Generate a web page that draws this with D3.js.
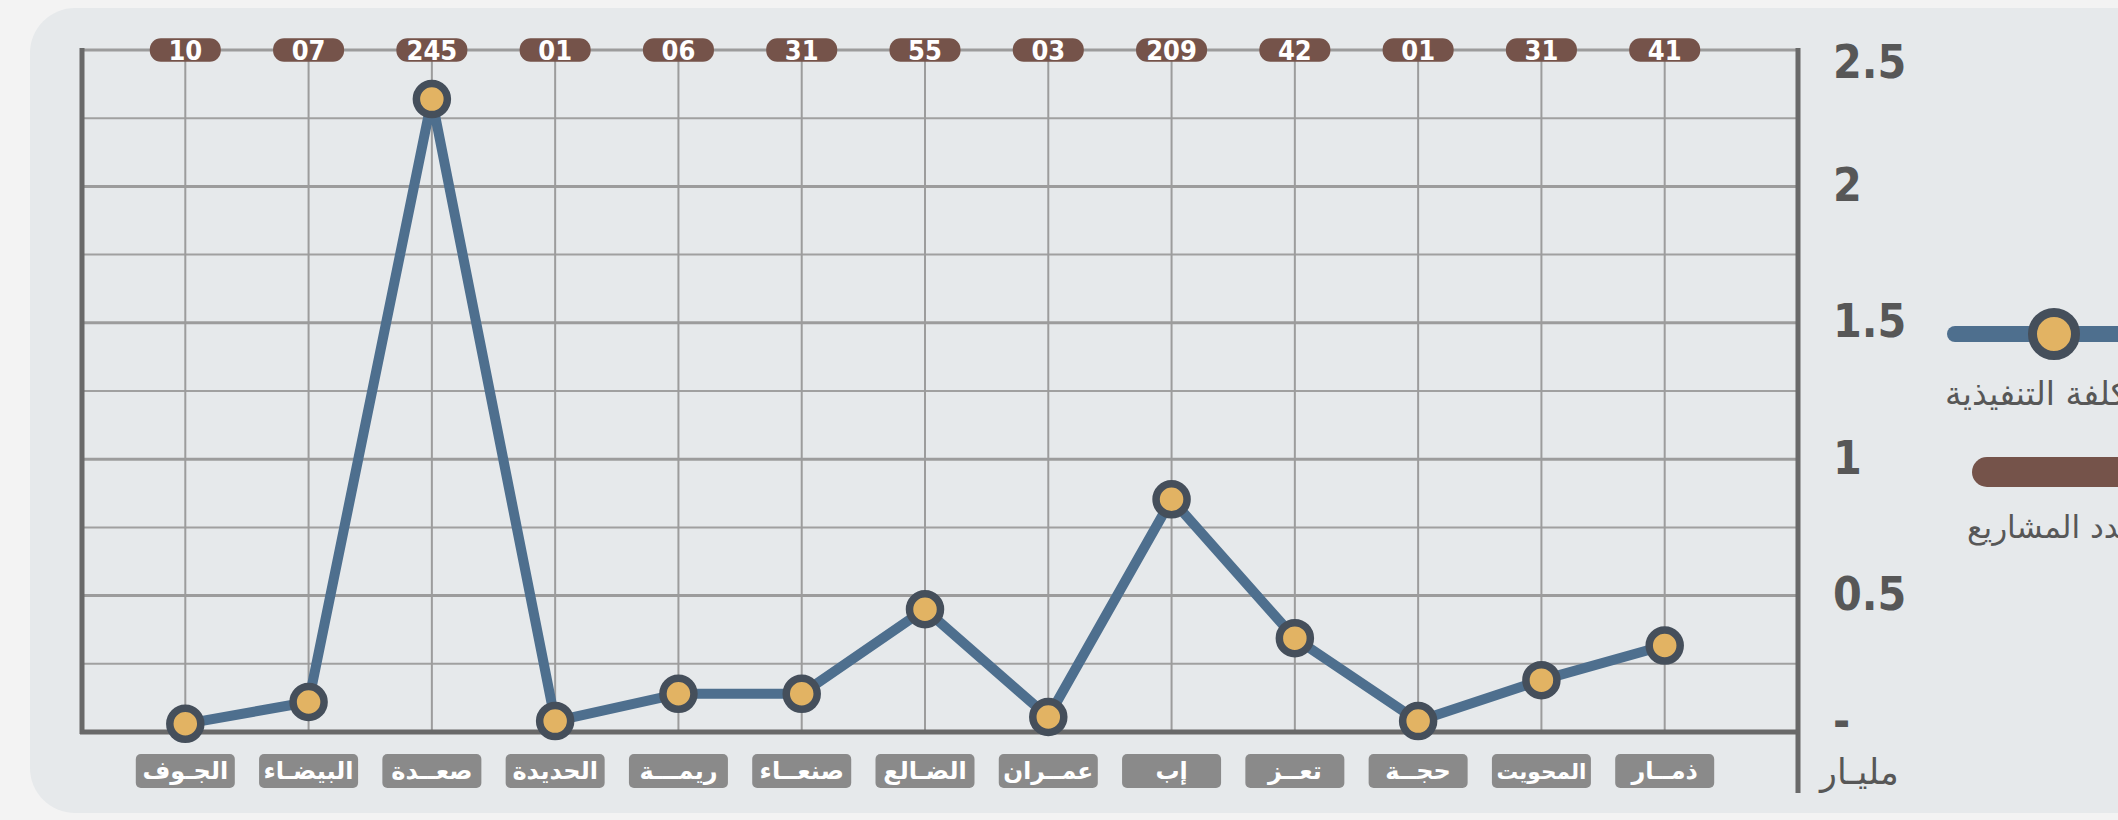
<!DOCTYPE html>
<html lang="ar">
<head>
	<meta charset="utf-8">
	<title>Cost by governorate</title>
	<script src="https://cdn.jsdelivr.net/npm/d3@7"></script>
	<style type="text/css">
		body {
			margin: 0;
			background: #f3f3f3;
		}
		svg text {
			font-family: "DejaVu Sans", sans-serif;
		}
		.num {
			font-family: "Liberation Sans Narrow", "DejaVu Sans Condensed", "Roboto Condensed", sans-serif !important;
			font-stretch: condensed;
			font-weight: bold;
		}
	</style>
</head>
<body>
<script type="text/javascript">

// governorates, left to right
var categories = ["الجـوف", "البيضـاء", "صعــدة", "الحديدة", "ريمـــة", "صنعــاء", "الضـالع",
                  "عمــران", "إب", "تعــز", "حجــة", "المحويت", "ذمــار"];

// implementation cost (billion)
var cost = [0.03, 0.11, 2.32, 0.04, 0.14, 0.14, 0.45, 0.055, 0.853, 0.344, 0.04, 0.19, 0.317];

// number of projects (shown in the top pills)
var projects = ["10", "07", "245", "01", "06", "31", "55", "03", "209", "42", "01", "31", "41"];

// y axis
var yTicks = [0, 0.5, 1, 1.5, 2, 2.5];
var yTickLabels = ["-", "0.5", "1", "1.5", "2", "2.5"];
var yMinor = [0.25, 0.75, 1.25, 1.75, 2.25];

var legendCost = "التكلفة التنفيذية";
var legendProjects = "عدد المشاريع";
var unitLabel = "مليـار";

// layout
var width = 2118, height = 820;
var plot = {left: 82, right: 1798, top: 50, bottom: 732};

var svg = d3.select("body")
			.append("svg")
			.attr("width", width)
			.attr("height", height)
			.attr("direction", "ltr");

// background panel
svg.append("rect")
	.attr("x", 30)
	.attr("y", 8)
	.attr("width", 2250)
	.attr("height", 805)
	.attr("rx", 45)
	.attr("fill", "#e6e9eb");

var xScale = d3.scalePoint()
				.domain(categories)
				.range([185.3, 1664.7]);

var yScale = d3.scaleLinear()
				.domain([0, 2.5])
				.range([plot.bottom, plot.top]);

var grid = svg.append("g");

// minor horizontal lines
grid.selectAll(".minor")
	.data(yMinor)
	.enter().append("line")
	.attr("x1", plot.left)
	.attr("x2", plot.right)
	.attr("y1", function(d) { return yScale(d); })
	.attr("y2", function(d) { return yScale(d); })
	.attr("stroke", "#a0a0a0")
	.attr("stroke-width", 2);

// major horizontal lines
grid.selectAll(".major")
	.data(yTicks.filter(function(d) { return d > 0; }))
	.enter().append("line")
	.attr("x1", plot.left)
	.attr("x2", plot.right)
	.attr("y1", function(d) { return yScale(d); })
	.attr("y2", function(d) { return yScale(d); })
	.attr("stroke", "#9c9c9c")
	.attr("stroke-width", 3);

// vertical lines at each category
grid.selectAll(".vline")
	.data(categories)
	.enter().append("line")
	.attr("x1", function(d) { return xScale(d); })
	.attr("x2", function(d) { return xScale(d); })
	.attr("y1", plot.top)
	.attr("y2", plot.bottom)
	.attr("stroke", "#9c9c9c")
	.attr("stroke-width", 2);

// axes frame
var axisColor = "#696969";
svg.append("line")
	.attr("x1", plot.left).attr("x2", plot.left)
	.attr("y1", plot.top - 2).attr("y2", plot.bottom + 2)
	.attr("stroke", axisColor).attr("stroke-width", 5);
svg.append("line")
	.attr("x1", plot.right).attr("x2", plot.right)
	.attr("y1", plot.top - 2).attr("y2", 793)
	.attr("stroke", axisColor).attr("stroke-width", 5);
svg.append("line")
	.attr("x1", plot.left - 2).attr("x2", plot.right)
	.attr("y1", plot.bottom).attr("y2", plot.bottom)
	.attr("stroke", axisColor).attr("stroke-width", 5);

// y labels on the right
var yAxis = d3.axisRight(yScale)
				.tickValues(yTicks)
				.tickSize(0)
				.tickPadding(0)
				.tickFormat(function(d, i) { return yTickLabels[i]; });

var yG = svg.append("g")
			.attr("transform", "translate(1833,0)")
			.call(yAxis);
yG.select(".domain").remove();
yG.selectAll("text")
	.attr("class", "num")
	.attr("fill", "#575757")
	.style("font-size", "46px")
	.attr("dy", function(d) { return d == 2.5 ? "0.6em" : (d == 0 ? "0.1em" : "0.3em"); });

// cost line
var line = d3.line()
			.x(function(d, i) { return xScale(categories[i]); })
			.y(function(d) { return yScale(d); });

svg.append("path")
	.datum(cost)
	.attr("d", line)
	.attr("fill", "none")
	.attr("stroke", "#4e6f8e")
	.attr("stroke-width", 10)
	.attr("stroke-linejoin", "round");

svg.selectAll(".pt")
	.data(cost)
	.enter().append("circle")
	.attr("cx", function(d, i) { return xScale(categories[i]); })
	.attr("cy", function(d) { return yScale(d); })
	.attr("r", 15.5)
	.attr("fill", "#e2b363")
	.attr("stroke", "#454f5b")
	.attr("stroke-width", 7.5);

// top pills with the number of projects
var pills = svg.selectAll(".pill")
				.data(projects)
				.enter().append("g")
				.attr("transform", function(d, i) {
					return "translate(" + xScale(categories[i]) + "," + plot.top + ")";
				});
pills.append("rect")
	.attr("x", -35.5)
	.attr("y", -11.7)
	.attr("width", 71)
	.attr("height", 23.4)
	.attr("rx", 11)
	.attr("fill", "#75534a");
pills.append("text")
	.attr("class", "num")
	.attr("text-anchor", "middle")
	.attr("dy", "0.37em")
	.attr("fill", "#ffffff")
	.style("font-size", "27px")
	.text(function(d) { return d; });

// bottom category pills
var cats = svg.selectAll(".cat")
				.data(categories)
				.enter().append("g")
				.attr("transform", function(d) {
					return "translate(" + xScale(d) + ",771)";
				});
cats.append("rect")
	.attr("x", -49.5)
	.attr("y", -17)
	.attr("width", 99)
	.attr("height", 34)
	.attr("rx", 5)
	.attr("fill", "#8a8a8a");
cats.append("text")
	.attr("text-anchor", "middle")
	.attr("dy", "0.35em")
	.attr("fill", "#ffffff")
	.attr("font-weight", "bold")
	.style("font-size", "24px")
	.text(function(d) { return d; })
	.each(function() {
		// shrink long names so they fit the pill
		var w = this.getComputedTextLength();
		if (w > 90) {
			d3.select(this).style("font-size", (24 * 90 / w) + "px");
		}
	});

// unit label
svg.append("text")
	.attr("x", 1820)
	.attr("y", 784)
	.attr("fill", "#575757")
	.style("font-size", "35px")
	.text(unitLabel);

// legend (runs off the right edge)
svg.append("line")
	.attr("x1", 1955).attr("x2", 2250)
	.attr("y1", 334).attr("y2", 334)
	.attr("stroke", "#4e6f8e")
	.attr("stroke-width", 16)
	.attr("stroke-linecap", "round");
svg.append("circle")
	.attr("cx", 2054)
	.attr("cy", 334)
	.attr("r", 21.5)
	.attr("fill", "#e2b363")
	.attr("stroke", "#454f5b")
	.attr("stroke-width", 9);
svg.append("text")
	.attr("x", 1945)
	.attr("y", 393)
	.attr("dy", "0.35em")
	.attr("fill", "#575757")
	.style("font-size", "33px")
	.text(legendCost);

svg.append("rect")
	.attr("x", 1972)
	.attr("y", 457)
	.attr("width", 300)
	.attr("height", 30)
	.attr("rx", 15)
	.attr("fill", "#75534a");
svg.append("text")
	.attr("x", 1967)
	.attr("y", 527)
	.attr("dy", "0.35em")
	.attr("fill", "#575757")
	.style("font-size", "31px")
	.text(legendProjects);

</script>
</body>
</html>
